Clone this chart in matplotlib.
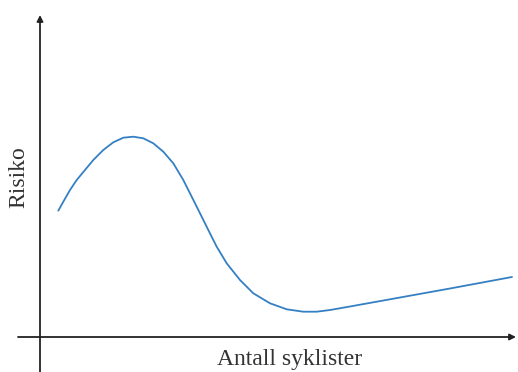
import matplotlib.pyplot as plt

# curve, x = antall syklister, y = risiko (arbitrary units)
x_vals = [18.3, 23.3, 30, 36.7, 45, 53.3, 63.3, 73.3, 83.3, 93.3, 103.3, 113.3,
          123.3, 133.3, 143.3, 151.7, 160, 168.3, 176.7, 186.7, 200, 213.3,
          230, 246.7, 263.3, 276.7, 290, 310, 360, 410, 472]
y_vals = [126.3, 135.3, 147, 157, 167, 177, 187, 194.7, 199.3, 200.3, 198.7,
          193.7, 185.3, 173.7, 157, 140.3, 123.7, 107, 90.3, 73.7, 57, 43.7,
          33.7, 27.7, 25.3, 25.3, 27, 30.5, 39.5, 48.5, 60]

x_label = "Antall syklister"
y_label = "Risiko"

fig = plt.figure(figsize=(5.18, 3.72), dpi=100)
ax = fig.add_axes([0, 0, 1, 1])
# axes origin sits at (0, 0); limits chosen so the picture matches
ax.set_xlim(-40, 478)
ax.set_ylim(-35, 337)
ax.axis('off')

# the two axes with arrow heads
ax.annotate('', xy=(476, 0), xytext=(-22, 0),
            arrowprops=dict(arrowstyle='-|>', color='#222222', lw=1.3,
                            mutation_scale=9, shrinkA=0, shrinkB=0))
ax.annotate('', xy=(0, 322), xytext=(0, -35),
            arrowprops=dict(arrowstyle='-|>', color='#222222', lw=1.3,
                            mutation_scale=9, shrinkA=0, shrinkB=0))

ax.plot(x_vals, y_vals, color='#3580c2', lw=1.3, solid_capstyle='round',
        solid_joinstyle='round')

ax.text(250, -23, x_label, ha='center', va='center', fontsize=17,
        family='Liberation Serif', color='#333333')
ax.text(-21, 160, y_label, ha='center', va='center', rotation=90, fontsize=17,
        family='Liberation Serif', color='#333333')

plt.savefig('out.png', dpi=100)
